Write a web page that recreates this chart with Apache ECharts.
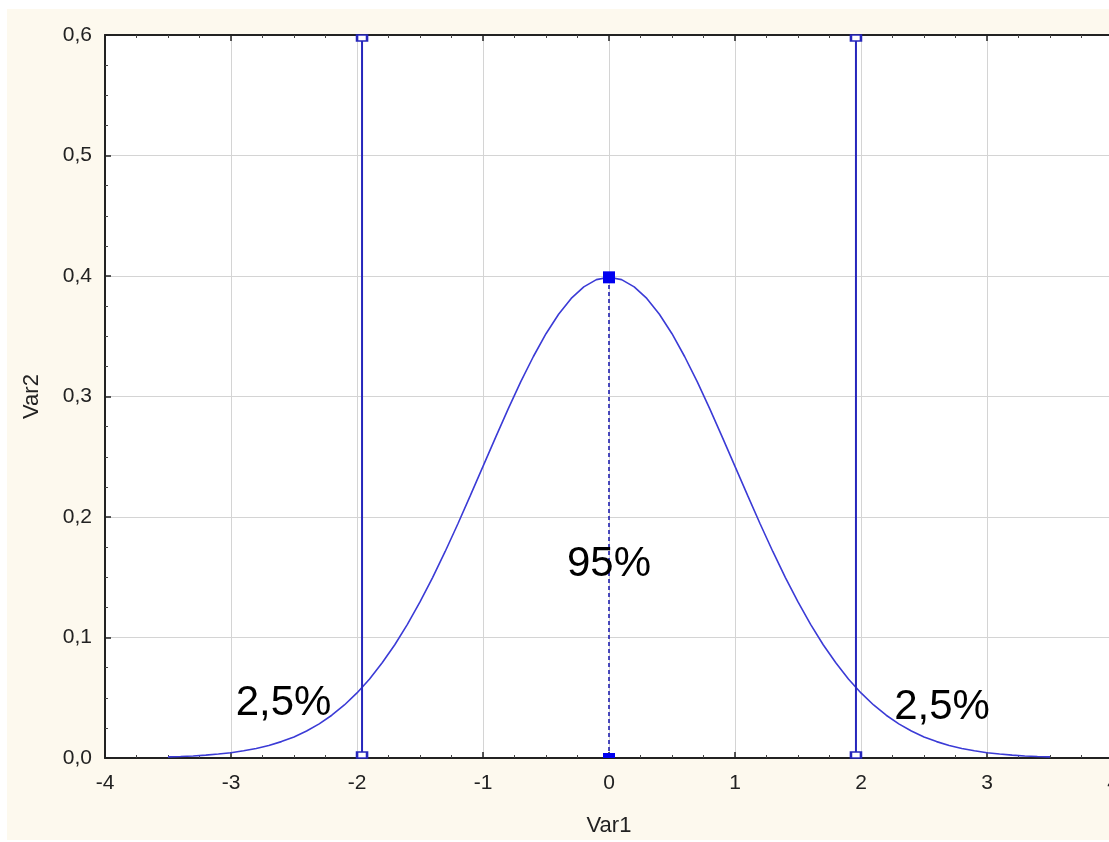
<!DOCTYPE html>
<html>
<head>
<meta charset="utf-8">
<script src="https://cdn.jsdelivr.net/npm/echarts@6/dist/echarts.min.js"></script>
<style>
html,body{margin:0;padding:0;background:#fff;overflow:hidden;width:1109px;height:842px;}
#bg{position:absolute;left:7px;top:9px;width:1102px;height:831px;background:#fdf9ee;}
#chart{position:absolute;left:0;top:0;width:1140px;height:842px;}
</style>
</head>
<body>
<div id="bg"></div>
<div id="chart"></div>
<script>
// Curve
const curveX = [-3.5,-3.4,-3.3,-3.2,-3.1,-3.0,-2.9,-2.8,-2.7,-2.6,-2.5,-2.4,-2.3,-2.2,-2.1,-2.0,-1.9,-1.8,-1.7,-1.6,-1.5,-1.4,-1.3,-1.2,-1.1,-1.0,-0.9,-0.8,-0.7,-0.6,-0.5,-0.4,-0.3,-0.2,-0.1,0,
  0.1,0.2,0.3,0.4,0.5,0.6,0.7,0.8,0.9,1.0,1.1,1.2,1.3,1.4,1.5,1.6,1.7,1.8,1.9,2.0,2.1,2.2,2.3,2.4,2.5,2.6,2.7,2.8,2.9,3.0,3.1,3.2,3.3,3.4,3.5];
const curveY = [0.0009,0.0012,0.0017,0.0024,0.0033,0.0044,0.0060,0.0079,0.0104,0.0136,0.0175,0.0224,0.0283,0.0355,0.0440,0.0540,0.0656,0.0790,0.0940,0.1109,0.1295,0.1497,0.1714,0.1942,0.2179,0.2420,0.2661,0.2897,0.3123,0.3332,0.3521,0.3683,0.3814,0.3910,0.3970,0.3989,
  0.3970,0.3910,0.3814,0.3683,0.3521,0.3332,0.3123,0.2897,0.2661,0.2420,0.2179,0.1942,0.1714,0.1497,0.1295,0.1109,0.0940,0.0790,0.0656,0.0540,0.0440,0.0355,0.0283,0.0224,0.0175,0.0136,0.0104,0.0079,0.0060,0.0044,0.0033,0.0024,0.0017,0.0012,0.0009];
// Critical lines
const critX = [-1.96, 1.96];
const yTop = 0.6;
const peakX = 0;
const peakY = 0.3989;
// Annotations
const annX = [0, -2.583, 2.643];
const annY = [0.161, 0.045, 0.042];
const annText = ['95%', '2,5%', '2,5%'];
const xTicks = [-4,-3,-2,-1,0,1,2,3,4];
const yTicks = [0,0.1,0.2,0.3,0.4,0.5,0.6];

const chart = echarts.init(document.getElementById('chart'));
const fmtY = v => v.toFixed(1).replace('.', ',');
const curveData = curveX.map((x,i)=>[x, curveY[i]]);
const lineCol = '#2626bc';
const curveCol = '#3b3bd6';
const axisCommon = {
  axisLine:{show:true, onZero:false, lineStyle:{color:'#222', width:2}},
  axisTick:{show:true, inside:true, length:6, lineStyle:{color:'#222', width:1.5}},
  minorTick:{show:true, splitNumber:4, length:3, lineStyle:{color:'#444', width:1}},
};
const series = [];
series.push({
  type:'line', data:curveData, showSymbol:false, symbol:'none',
  lineStyle:{color:curveCol, width:1.6}, z:3, animation:false
});
critX.forEach(cx=>{
  series.push({
    type:'line', animation:false, z:4,
    data:[
      {value:[cx,0], symbol:'emptyRect', symbolSize:[10,6], symbolOffset:[0,-3]},
      {value:[cx,yTop], symbol:'emptyRect', symbolSize:[10,6], symbolOffset:[0,3]}
    ],
    lineStyle:{color:lineCol, width:2}, itemStyle:{color:lineCol, borderWidth:1.5}
  });
});
series.push({
  type:'line', animation:false, z:5,
  data:[
    {value:[peakX,0], symbol:'rect', symbolSize:[12,5], symbolOffset:[0,-2.5]},
    {value:[peakX,peakY], symbol:'rect', symbolSize:12}
  ],
  lineStyle:{color:'#1f1fb0', width:1.6, type:[4,3]}, itemStyle:{color:'#0000f0'}
});
series.push({
  type:'scatter', animation:false, z:6, symbolSize:0,
  data: annX.map((x,i)=>({value:[x, annY[i]], label:{formatter:annText[i]}})),
  label:{show:true, position:'inside', color:'#000', opacity:1, textBorderWidth:0, fontSize:42, fontFamily:'Liberation Sans, Arial, sans-serif'},
  emphasis:{disabled:true}
});

chart.setOption({
  animation:false,
  backgroundColor:'transparent',
  textStyle:{fontFamily:'Liberation Sans, Arial, sans-serif'},
  grid:{left:105, top:35, width:1008, height:723, show:true, backgroundColor:'#fff', borderWidth:0},
  xAxis:[
    Object.assign({type:'value', position:'bottom', min:xTicks[0], max:xTicks[xTicks.length-1], interval:1,
      name:'Var1', nameLocation:'middle', nameGap:57, nameTextStyle:{fontSize:22, color:'#222'},
      axisLabel:{fontSize:21, color:'#222', margin:15},
      splitLine:{show:true, lineStyle:{color:'#d4d4d4', width:1}}}, axisCommon),
    Object.assign({type:'value', position:'top', min:xTicks[0], max:xTicks[xTicks.length-1], interval:1,
      axisLabel:{show:false}, splitLine:{show:false}}, axisCommon)
  ],
  yAxis:[
    Object.assign({type:'value', position:'left', min:yTicks[0], max:yTicks[yTicks.length-1], interval:0.1,
      name:'Var2', nameLocation:'middle', nameGap:62, nameTextStyle:{fontSize:22, color:'#222'},
      axisLabel:{fontSize:21, color:'#222', margin:13, formatter:fmtY},
      splitLine:{show:true, lineStyle:{color:'#d4d4d4', width:1}}}, axisCommon)
  ],
  series: series
});
</script>
</body>
</html>
